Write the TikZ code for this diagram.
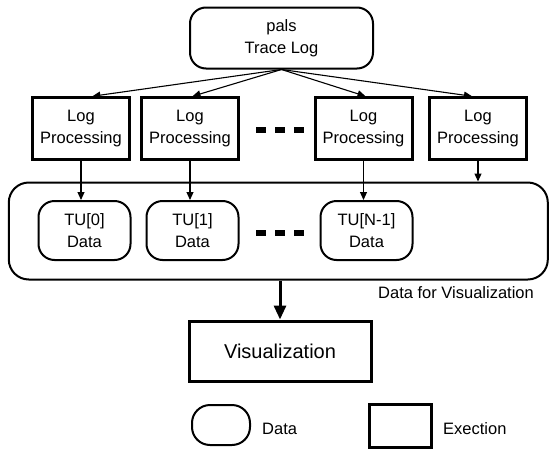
\documentclass[tikz,border=0pt]{standalone}
\usepackage{fontspec}
\setmainfont{Liberation Sans}
\usetikzlibrary{arrows.meta,calc}
\begin{document}
\begin{tikzpicture}[x=1pt,y=-1pt,
  every node/.style={font=\fontsize{16.5}{22}\selectfont, align=center, inner sep=0pt},
  datab/.style={draw, line width=2pt, rounded corners=16pt},
  tubox/.style={datab, minimum width=92pt, minimum height=59pt},
  execbox/.style={draw, line width=3pt, minimum width=97pt, minimum height=61.5pt},
  thinarrow/.style={line width=1.1pt, -{Triangle[length=8pt,width=7pt]}},
  dashmark/.style={fill=black},
]
\useasboundingbox (0,0) rectangle (549,450);
% top
\node[datab, minimum width=183pt, minimum height=61pt] (pals) at (281.5,38) {pals\\Trace Log};
% processing boxes
\node[execbox] (b1) at (81,128.5) {Log\\Processing};
\node[execbox] (b2) at (190,128.5) {Log\\Processing};
\node[execbox] (b3) at (363.5,128.5) {Log\\Processing};
\node[execbox] (b4) at (478,128.5) {Log\\Processing};
\foreach \x in {256,275,294} \fill[dashmark] (\x,127) rectangle ++(9.5,6);
% container
\node[draw, line width=2pt, rounded corners=20pt, minimum width=539pt, minimum height=97pt] (cont) at (278.3,231) {};
\node[tubox] (t0) at (84.5,230.5) {TU[0]\\Data};
\node[tubox] (t1) at (192.5,230.5) {TU[1]\\Data};
\node[tubox] (t2) at (366.5,230.5) {TU[N-1]\\Data};
\foreach \x in {256,275,294} \fill[dashmark] (\x,229.5) rectangle ++(9.5,6);
\node[anchor=east] (lbl) at (534,293) {Data for Visualization};
% visualization
\node[draw, line width=3pt, minimum width=182pt, minimum height=60pt, font=\fontsize{20}{24}\selectfont] (vis) at (280,351) {Visualization};
% legend
\node[datab, rounded corners=18pt, minimum width=58pt, minimum height=40pt] (ld) at (221,425) {};
\node[anchor=west] (ldt) at (262,429) {Data};
\node[draw, line width=3pt, minimum width=62pt, minimum height=43pt] (le) at (400,425.5) {};
\node[anchor=west] (let) at (443,429) {Exection};
% connectors
\coordinate (a1) at ($(b1.north west)!0.614!(b1.north east)$);
\coordinate (a2) at ($(b2.north west)!0.525!(b2.north east)$);
\coordinate (a3) at ($(b3.north west)!0.52!(b3.north east)$);
\coordinate (a4) at ($(b4.north west)!0.44!(b4.north east)$);
\foreach \a in {a1,a2,a3,a4} \draw[thinarrow] (pals.south) -- (\a);
\draw[thinarrow] (b1.south) -- (b1.south |- t0.north);
\draw[thinarrow] (b2.south) -- (b2.south |- t1.north);
\draw[thinarrow] (b3.south) -- (b3.south |- t2.north);
\draw[thinarrow] (b4.south) -- (b4.south |- cont.north);
\draw[line width=3pt, -{Triangle[length=14pt,width=12pt]}] (vis.north |- cont.south) -- (vis.north);
\end{tikzpicture}
\end{document}
